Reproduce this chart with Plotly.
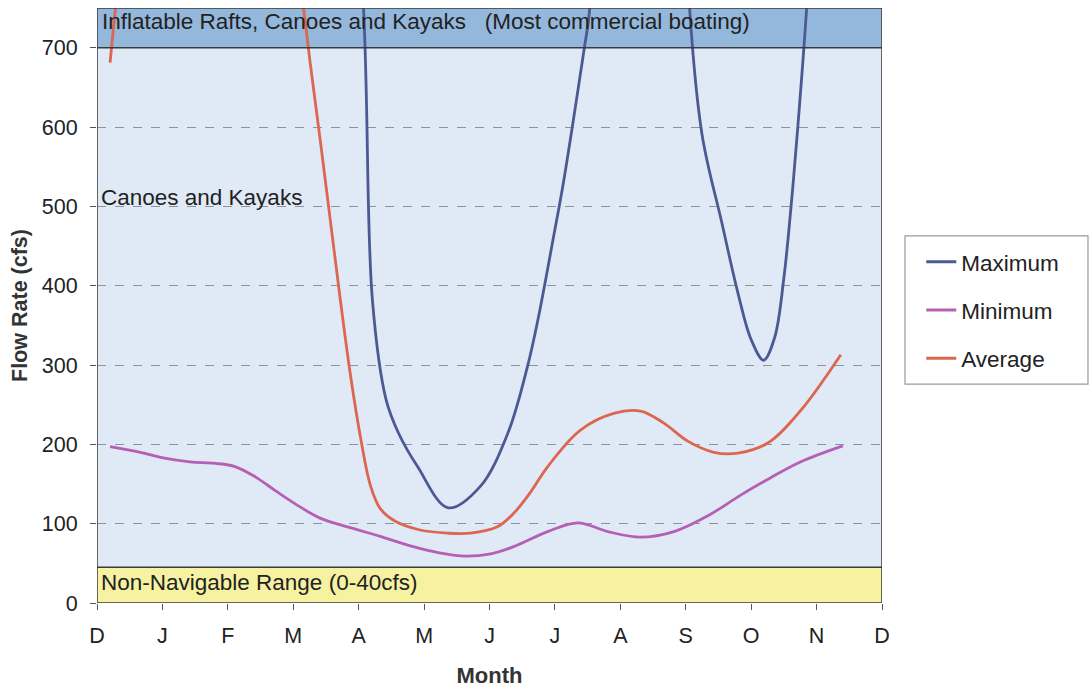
import plotly.graph_objects as go

# Month tick labels (Dec .. Dec)
month_ticks = ["D", "J", "F", "M", "A", "M", "J", "J", "A", "S", "O", "N", "D"]

# Minimum flow (x in months from start of December, y in cfs)
min_x = [0.20, 0.66, 1.01, 1.42, 1.81, 2.11, 2.42, 2.72, 3.03, 3.41, 3.87, 4.33, 4.79,
         5.25, 5.63, 6.02, 6.37, 6.89, 7.35, 7.81, 8.31, 8.82, 9.34, 9.84, 10.30, 10.76, 11.40]
min_y = [197, 190, 183, 178, 176, 172, 159, 142, 125, 107, 95, 84, 72,
         63, 59, 62, 71, 90, 101, 90, 83, 90, 110, 136, 158, 178, 198]

# Average flow
avg_x = [0.20, 0.60, 1.20, 2.00, 2.70, 3.14, 3.26, 3.41, 3.57, 3.72, 3.87, 4.03, 4.18, 4.33,
         4.56, 4.94, 5.36, 5.71, 6.12, 6.37, 6.63, 6.89, 7.39, 7.90, 8.31, 8.66, 9.03,
         9.43, 9.80, 10.26, 10.76, 11.37]
avg_y = [681, 950, 1150, 1250, 1000, 760, 680, 585, 480, 382, 290, 208, 148, 119,
         103, 92, 88, 88, 96, 113, 140, 172, 218, 239, 242, 227, 204,
         190, 189, 202, 243, 313]

# Maximum flow
max_x = [0.20, 1.20, 2.20, 3.00, 3.60, 4.07, 4.21, 4.42, 4.61, 4.90,
         5.37, 5.86, 6.28, 6.58, 6.74, 6.98, 7.12, 7.26, 7.45, 7.52,
         7.90, 8.40, 8.90, 9.05, 9.25, 9.55, 9.80, 10.00,
         10.19, 10.36, 10.50, 10.61, 10.71, 10.84, 11.10, 11.40]
max_y = [1500, 1700, 1900, 1800, 1300, 757, 382, 256, 214, 172,
         120, 147, 214, 298, 357, 462, 525, 597, 700, 739,
         1150, 1300, 1100, 760, 590, 480, 390, 332,
         306, 335, 410, 500, 597, 740, 1100, 1400]

y_ticks = [0, 100, 200, 300, 400, 500, 600, 700]

FONT = "Arial, 'Liberation Sans', sans-serif"
C_MAX = "#4b5a93"
C_MIN = "#b560b4"
C_AVG = "#dc6650"

fig = go.Figure()
fig.add_trace(go.Scatter(x=max_x, y=max_y, mode="lines", name="Maximum", legendgroup="a",
                         line=dict(color=C_MAX, width=2.8, shape="spline", smoothing=1)))
fig.add_trace(go.Scatter(x=min_x, y=min_y, mode="lines", name="Minimum", legendgroup="b",
                         line=dict(color=C_MIN, width=2.8, shape="spline", smoothing=1)))
fig.add_trace(go.Scatter(x=avg_x, y=avg_y, mode="lines", name="Average", legendgroup="c",
                         line=dict(color=C_AVG, width=2.8, shape="spline", smoothing=1)))

shapes = [
    dict(type="rect", xref="x", yref="y", x0=0, x1=12, y0=700, y1=750,
         fillcolor="#94b7dc", line=dict(width=0), layer="below"),
    dict(type="rect", xref="x", yref="y", x0=0, x1=12, y0=0, y1=45,
         fillcolor="#f6f2a2", line=dict(width=0), layer="below"),
    dict(type="line", xref="x", yref="y", x0=0, x1=12, y0=700, y1=700,
         line=dict(color="#3a3a3a", width=1.5)),
    dict(type="line", xref="x", yref="y", x0=0, x1=12, y0=45, y1=45,
         line=dict(color="#3a3a3a", width=1.5)),
    dict(type="rect", xref="x", yref="y", x0=0, x1=12, y0=0, y1=750,
         line=dict(color="#3a3a3a", width=1.5)),
    # legend frame
    dict(type="rect", xref="paper", yref="paper", x0=1.0293, x1=1.2624, y0=0.368, y1=0.617,
         fillcolor="white", line=dict(color="#9a9a9a", width=1.2), layer="below"),
]

annotations = [
    dict(xref="x", yref="y", x=0, y=733, xanchor="left", yanchor="middle", xshift=3,
         showarrow=False,
         text="Inflatable Rafts, Canoes and Kayaks\u00a0\u00a0\u00a0(Most commercial boating)",
         font=dict(family=FONT, size=22.5, color="#222")),
    dict(xref="x", yref="y", x=0, y=511, xanchor="left", yanchor="middle", xshift=2,
         showarrow=False, text="Canoes and Kayaks",
         font=dict(family=FONT, size=22.5, color="#222")),
    dict(xref="x", yref="y", x=0, y=26, xanchor="left", yanchor="middle", xshift=2,
         showarrow=False, text="Non-Navigable Range (0-40cfs)",
         font=dict(family=FONT, size=22.5, color="#222")),
]

fig.update_layout(
    width=1090, height=690,
    margin=dict(l=97, r=208, t=8, b=87),
    paper_bgcolor="white",
    plot_bgcolor="#dfeaf6",
    font=dict(family=FONT, color="#222"),
    shapes=shapes,
    annotations=annotations,
    showlegend=True,
    legend=dict(x=1.05, y=0.609, xanchor="left", yanchor="top",
                bgcolor="rgba(0,0,0,0)", borderwidth=0,
                font=dict(family=FONT, size=22.5, color="#222"),
                tracegroupgap=16),
    xaxis=dict(range=[0, 12], tickmode="array", tickvals=list(range(13)), ticktext=month_ticks,
               ticks="outside", ticklen=6, tickcolor="#555", showgrid=False, zeroline=False,
               showline=False, automargin=False,
               tickfont=dict(family=FONT, size=21.5, color="#222"),
               ticklabelstandoff=7,
               title=dict(text="<b>Month</b>", font=dict(family=FONT, size=22, color="#333"),
                          standoff=20)),
    yaxis=dict(range=[0, 750], tickmode="array", tickvals=y_ticks,
               ticks="outside", ticklen=6, tickcolor="#555",
               showgrid=True, gridcolor="#8c939c", griddash="dash", gridwidth=1,
               zeroline=False, showline=False, automargin=False,
               tickfont=dict(family=FONT, size=21.5, color="#222"),
               ticklabelstandoff=8,
               title=dict(text="<b>Flow Rate (cfs)</b>", font=dict(family=FONT, size=21.5, color="#333"),
                          standoff=8)),
)

fig.write_html("out.html", config={"displayModeBar": False},
               post_script="document.body.style.margin='0';")
